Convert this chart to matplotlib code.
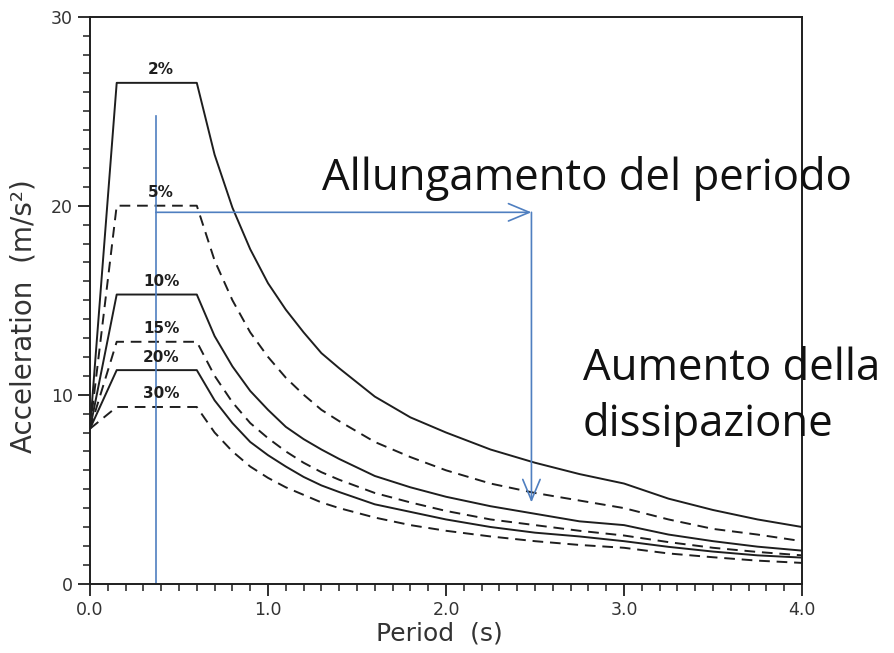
import matplotlib
matplotlib.use("Agg")
import matplotlib.pyplot as plt
from matplotlib.ticker import MultipleLocator, FixedLocator

# ---- data ----
period = [0.0, 0.15, 0.6, 0.7, 0.8, 0.9, 1.0, 1.1, 1.2, 1.3, 1.4, 1.6, 1.8,
          2.0, 2.25, 2.5, 2.75, 3.0, 3.25, 3.5, 3.75, 4.0]

acc_2 = [8.2, 26.5, 26.5, 22.7, 19.9, 17.7, 15.9, 14.5, 13.3, 12.2, 11.4, 9.9, 8.8,
         8.0, 7.1, 6.4, 5.8, 5.3, 4.5, 3.9, 3.4, 3.0]
acc_5 = [8.2, 20.0, 20.0, 17.1, 15.0, 13.3, 12.0, 10.9, 10.0, 9.2, 8.6, 7.5, 6.7,
         6.0, 5.3, 4.8, 4.4, 4.0, 3.4, 2.9, 2.6, 2.25]
acc_10 = [8.2, 15.3, 15.3, 13.1, 11.5, 10.2, 9.2, 8.3, 7.65, 7.1, 6.6, 5.7, 5.1,
          4.6, 4.1, 3.7, 3.3, 3.1, 2.6, 2.25, 1.96, 1.75]
acc_15 = [8.2, 12.8, 12.8, 11.0, 9.6, 8.5, 7.7, 7.0, 6.4, 5.9, 5.5, 4.8, 4.3,
          3.85, 3.4, 3.1, 2.8, 2.55, 2.2, 1.9, 1.68, 1.5]
acc_20 = [8.2, 11.3, 11.3, 9.7, 8.5, 7.5, 6.8, 6.2, 5.65, 5.2, 4.85, 4.2, 3.8,
          3.4, 3.0, 2.7, 2.5, 2.25, 1.95, 1.7, 1.5, 1.38]
acc_30 = [8.2, 9.35, 9.35, 8.0, 7.0, 6.2, 5.6, 5.1, 4.7, 4.3, 4.0, 3.5, 3.1,
          2.8, 2.5, 2.25, 2.05, 1.9, 1.6, 1.4, 1.22, 1.1]

damping_labels = ["2%", "5%", "10%", "15%", "20%", "30%"]
series = [acc_2, acc_5, acc_10, acc_15, acc_20, acc_30]
dashed = [False, True, False, True, False, True]
label_period = 0.40

x_ticks = [0.0, 1.0, 2.0, 3.0, 4.0]
x_ticklabels = ["0.0", "1.0", "2.0", "3.0", "4.0"]
y_ticks = [0, 10, 20, 30]

# blue annotation geometry (data units)
vline_T = 0.37
vline_top = 24.75
harrow_y = 19.65
arrow_T = 2.48
varrow_end = 4.3

# ---- figure ----
W, H = 895, 653
fig = plt.figure(figsize=(W / 100, H / 100), dpi=100)
ax = fig.add_axes([90 / W, 1 - 583.7 / H, 712 / W, 567 / H])

ink = "#1e1e1e"
for vals, lab, dsh in zip(series, damping_labels, dashed):
    ax.plot(period, vals, color=ink, lw=1.4,
            linestyle=(0, (5.5, 3.5)) if dsh else "-")
    ax.annotate(lab, xy=(label_period, vals[2]), xytext=(0, 4),
                textcoords="offset points", ha="center", va="bottom",
                fontsize=11, color=ink, fontweight="bold")

blue = "#4f7fc0"
ax.plot([vline_T, vline_T], [0, vline_top], color=blue, lw=1.2)
ax.annotate("", xy=(arrow_T, harrow_y), xytext=(vline_T, harrow_y),
            arrowprops=dict(arrowstyle="->,head_length=0.6,head_width=0.25",
                            color=blue, lw=1.2, mutation_scale=25,
                            shrinkA=0, shrinkB=0))
ax.annotate("", xy=(arrow_T, varrow_end), xytext=(arrow_T, harrow_y),
            arrowprops=dict(arrowstyle="->,head_length=0.6,head_width=0.25",
                            color=blue, lw=1.2, mutation_scale=25,
                            shrinkA=0, shrinkB=0))

ax.set_xlim(0, 4.0)
ax.set_ylim(0, 30)
ax.xaxis.set_major_locator(FixedLocator(x_ticks))
ax.set_xticklabels(x_ticklabels)
ax.xaxis.set_minor_locator(MultipleLocator(0.1))
ax.yaxis.set_major_locator(FixedLocator(y_ticks))
ax.yaxis.set_minor_locator(MultipleLocator(1))
ax.tick_params(which="major", direction="out", length=8.5, width=1.3,
               labelsize=12.5, colors=ink, labelcolor="#333333", pad=4)
ax.tick_params(which="minor", direction="out", length=5, width=1.1, colors=ink)
for s in ax.spines.values():
    s.set_linewidth(1.4)
    s.set_color(ink)

ax.set_xlabel("Period  (s)", fontsize=18, color="#333333")
ax.set_ylabel("Acceleration  (m/s²)", fontsize=20, color="#333333")
ax.xaxis.set_label_coords((439 - 90) / 712, (583.7 - 621) / 567)
ax.yaxis.set_label_coords((38 - 90) / 712, (583.7 - 316.5) / 567)

txt_font = ["Open Sans", "DejaVu Sans"]
fig.text(322 / W, 1 - 190 / H, "Allungamento del periodo", fontsize=31.5,
         family=txt_font, color="#111111", ha="left", va="baseline")
fig.text(583 / W, 1 - 380 / H, "Aumento della", fontsize=31.5,
         family=txt_font, color="#111111", ha="left", va="baseline")
fig.text(583 / W, 1 - 436 / H, "dissipazione", fontsize=31.5,
         family=txt_font, color="#111111", ha="left", va="baseline")

fig.savefig("out.png", dpi=100)
